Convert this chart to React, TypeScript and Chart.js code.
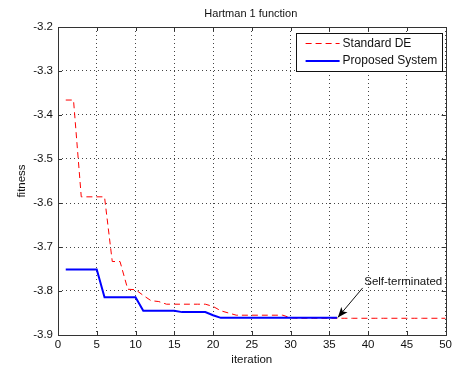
import React, { useEffect, useRef } from "react";
import { Chart, registerables } from "chart.js";

Chart.register(...registerables);

const iterations = [
  1, 2, 3, 4, 5, 6, 7, 8, 9, 10, 11, 12, 13, 14, 15, 16, 17, 18, 19, 20,
  21, 22, 23, 24, 25, 26, 27, 28, 29, 30, 31, 32, 33, 34, 35, 36, 37, 38, 39, 40,
  41, 42, 43, 44, 45, 46, 47, 48, 49, 50,
];

const standardDE = [
  -3.366, -3.366, -3.586, -3.586, -3.586, -3.586, -3.733, -3.733, -3.796, -3.797,
  -3.81, -3.822, -3.824, -3.83, -3.83, -3.83, -3.83, -3.83, -3.83, -3.835,
  -3.845, -3.85, -3.855, -3.855, -3.855, -3.855, -3.855, -3.855, -3.855, -3.861,
  -3.862, -3.862, -3.862, -3.862, -3.862, -3.862, -3.862, -3.862, -3.862, -3.862,
  -3.862, -3.862, -3.862, -3.862, -3.862, -3.862, -3.862, -3.862, -3.862, -3.862,
];

const proposedSystem = [
  -3.751, -3.751, -3.751, -3.751, -3.751, -3.814, -3.814, -3.814, -3.814, -3.814,
  -3.845, -3.845, -3.845, -3.845, -3.845, -3.848, -3.848, -3.848, -3.848, -3.855,
  -3.861, -3.861, -3.861, -3.861, -3.861, -3.861, -3.861, -3.861, -3.861, -3.861,
  -3.861, -3.861, -3.861, -3.861, -3.861, -3.861,
];

const seriesLabels = ["Standard DE", "Proposed System"];
const chartTitle = "Hartman 1 function";
const xTitle = "iteration";
const yTitle = "fitness";
const annotationText = "Self-terminated";

const FONT = "'Liberation Sans', Arial, sans-serif";

const matlabPlugin = {
  id: "matlabDecor",
  afterDraw(chart: any) {
    const { ctx, chartArea } = chart;
    const { left, right, top, bottom } = chartArea;
    const xs = chart.scales.x;
    const ys = chart.scales.y;
    ctx.save();
    // box
    ctx.strokeStyle = "#333";
    ctx.lineWidth = 1;
    ctx.setLineDash([]);
    ctx.strokeRect(Math.round(left) + 0.5, Math.round(top) + 0.5, Math.round(right - left), Math.round(bottom - top));

    // inward tick marks
    ctx.beginPath();
    for (const t of xs.ticks) {
      const px = Math.round(xs.getPixelForValue(t.value)) + 0.5;
      ctx.moveTo(px, bottom); ctx.lineTo(px, bottom - 4);
      ctx.moveTo(px, top); ctx.lineTo(px, top + 4);
    }
    for (const t of ys.ticks) {
      const py = Math.round(ys.getPixelForValue(t.value)) + 0.5;
      ctx.moveTo(left, py); ctx.lineTo(left + 4, py);
      ctx.moveTo(right, py); ctx.lineTo(right - 4, py);
    }
    ctx.stroke();

    // title
    ctx.fillStyle = "#111";
    ctx.font = `11px ${FONT}`;
    ctx.textAlign = "center";
    ctx.textBaseline = "middle";
    ctx.fillText(chartTitle, (left + right) / 2 - 1, 14);

    // legend
    const lx0 = right - 150;
    const ly0 = top + 6;
    const lw = 146;
    const lh = 38;
    ctx.fillStyle = "#fff";
    ctx.fillRect(lx0, ly0, lw, lh);
    ctx.strokeStyle = "#111";
    ctx.lineWidth = 1;
    ctx.strokeRect(Math.round(lx0) + 0.5, Math.round(ly0) + 0.5, lw, lh);
    const rows = [
      { y: ly0 + 10.5, color: "#ff0000", width: 1, dash: [6, 4] },
      { y: ly0 + 28, color: "#0000ff", width: 2, dash: [] as number[] },
    ];
    ctx.font = `12px ${FONT}`;
    ctx.textAlign = "left";
    rows.forEach((r, i) => {
      ctx.beginPath();
      ctx.strokeStyle = r.color;
      ctx.lineWidth = r.width;
      ctx.setLineDash(r.dash);
      ctx.moveTo(lx0 + 10, r.y);
      ctx.lineTo(lx0 + 44, r.y);
      ctx.stroke();
      ctx.setLineDash([]);
      ctx.fillStyle = "#111";
      ctx.fillText(seriesLabels[i], lx0 + 47, r.y);
    });

    // annotation
    ctx.fillStyle = "#111";
    ctx.font = `11.5px ${FONT}`;
    ctx.textAlign = "left";
    ctx.fillText(annotationText, xs.getPixelForValue(39.5), ys.getPixelForValue(-3.78));
    const ax0 = xs.getPixelForValue(39.3);
    const ay0 = ys.getPixelForValue(-3.793);
    const ax1 = xs.getPixelForValue(36.1);
    const ay1 = ys.getPixelForValue(-3.86);
    ctx.strokeStyle = "#111";
    ctx.lineWidth = 1;
    ctx.beginPath();
    ctx.moveTo(ax0, ay0);
    ctx.lineTo(ax1, ay1);
    ctx.stroke();
    const ang = Math.atan2(ay1 - ay0, ax1 - ax0);
    const len = 11;
    const spread = 0.38;
    ctx.fillStyle = "#000";
    ctx.beginPath();
    ctx.moveTo(ax1, ay1);
    ctx.lineTo(ax1 - len * Math.cos(ang - spread), ay1 - len * Math.sin(ang - spread));
    ctx.lineTo(ax1 - len * 0.7 * Math.cos(ang), ay1 - len * 0.7 * Math.sin(ang));
    ctx.lineTo(ax1 - len * Math.cos(ang + spread), ay1 - len * Math.sin(ang + spread));
    ctx.closePath();
    ctx.fill();
    ctx.restore();
  },
};

export default function App() {
  const ref = useRef<HTMLCanvasElement | null>(null);
  useEffect(() => {
    if (!ref.current) return;
    const chart = new Chart(ref.current, {
      type: "line",
      data: {
        datasets: [
          {
            label: seriesLabels[0],
            data: standardDE.map((v, i) => ({ x: iterations[i], y: v })),
            borderColor: "#ff0000",
            borderWidth: 1,
            borderDash: [6, 4],
            pointRadius: 0,
            tension: 0,
            fill: false,
            order: 1,
          },
          {
            label: seriesLabels[1],
            data: proposedSystem.map((v, i) => ({ x: iterations[i], y: v })),
            borderColor: "#0000ff",
            borderWidth: 2,
            pointRadius: 0,
            tension: 0,
            fill: false,
            order: 0,
          },
        ],
      },
      options: {
        responsive: false,
        animation: false,
        devicePixelRatio: 1,
        layout: { padding: { top: 27, right: 7, left: 0, bottom: 0 } },
        plugins: {
          legend: { display: false },
          tooltip: { enabled: false },
          title: { display: false },
        },
        scales: {
          x: {
            type: "linear",
            min: 0,
            max: 50,
            ticks: {
              stepSize: 5,
              color: "#111",
              font: { family: FONT, size: 11.5 },
              padding: 3,
              maxRotation: 0,
            },
            grid: { color: "#444", lineWidth: 1, drawTicks: false },
            border: { display: false, dash: [1, 3] },
            title: {
              display: true,
              text: xTitle,
              color: "#111",
              font: { family: FONT, size: 11.5 },
              padding: { top: 0, bottom: 0 },
            },
            afterFit: (s: any) => {
              s.height = 32;
            },
          },
          y: {
            type: "linear",
            min: -3.9,
            max: -3.2,
            ticks: {
              stepSize: 0.1,
              color: "#111",
              font: { family: FONT, size: 11.5 },
              padding: 5,
              callback: (v: any) => Number(v).toFixed(1),
            },
            grid: { color: "#444", lineWidth: 1, drawTicks: false },
            border: { display: false, dash: [1, 3] },
            title: {
              display: true,
              text: yTitle,
              color: "#111",
              font: { family: FONT, size: 11.5 },
              padding: { top: 15, bottom: 0 },
            },
            afterFit: (s: any) => {
              s.width = 58;
            },
          },
        },
      },
      plugins: [matlabPlugin],
    });
    return () => chart.destroy();
  }, []);
  return (
    <div style={{ position: "absolute", left: 0, top: 0, width: 455, height: 367, background: "#fff" }}>
      <canvas ref={ref} width={455} height={367} style={{ display: "block" }} />
    </div>
  );
}
